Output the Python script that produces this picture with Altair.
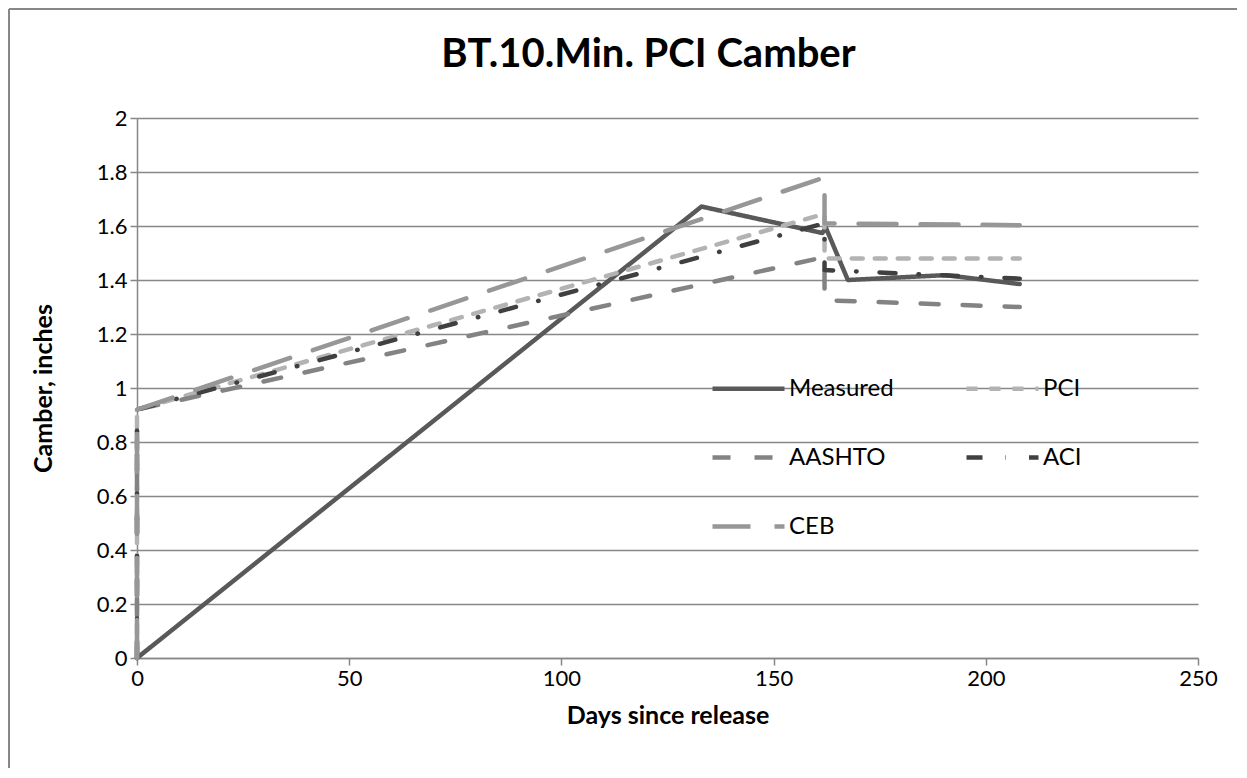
import altair as alt
import pandas as pd

# ---- data ----
series_names = ["Measured", "PCI", "AASHTO", "ACI", "CEB"]

measured_days = [0, 133, 161.5, 162.3, 167.5, 190.5, 208]
measured_camber = [0, 1.672, 1.574, 1.594, 1.400, 1.418, 1.385]

model_days = [0, 0, 162, 162, 208]
pci_camber = [0, 0.92, 1.645, 1.48, 1.48]
aashto_camber = [0, 0.92, 1.485, 1.325, 1.30]
aci_camber = [0, 0.92, 1.61, 1.437, 1.405]
ceb_camber = [0, 0.92, 1.78, 1.61, 1.603]

x_ticks = [0, 50, 100, 150, 200, 250]
y_ticks = [0, 0.2, 0.4, 0.6, 0.8, 1.0, 1.2, 1.4, 1.6, 1.8, 2.0]

# ---- build table ----
rows = []
for name, days, vals in [
    ("Measured", measured_days, measured_camber),
    ("PCI", model_days, pci_camber),
    ("AASHTO", model_days, aashto_camber),
    ("ACI", model_days, aci_camber),
    ("CEB", model_days, ceb_camber),
]:
    for i, (d, v) in enumerate(zip(days, vals)):
        rows.append({"series": name, "day": d, "camber": v, "order": i})
df = pd.DataFrame(rows)

style = {
    "Measured": ("#595959", [1, 0]),
    "PCI": ("#b3b3b3", [11, 12]),
    "AASHTO": ("#838383", [18, 24]),
    "ACI": ("#404040", [16, 23, 0.5, 23]),
    "CEB": ("#979797", [38, 24]),
}
# legend fills column by column: order so rows read Measured|PCI, AASHTO|ACI, CEB
legend_order = ["Measured", "AASHTO", "CEB", "PCI", "ACI"]
colors = [style[s][0] for s in legend_order]
dashes = [style[s][1] for s in legend_order]

FONT = "Lato"
GRID = "#878787"

legend_kw = dict(
    orient="none",
    legendX=573,
    legendY=232,
    columns=2,
    title=None,
    symbolType="stroke",
    symbolSize=5184,
    symbolStrokeWidth=4.5,
    labelFont=FONT,
    labelFontSize=24,
    labelColor="#000000",
    labelOffset=2,
    columnPadding=63,
    rowPadding=18,
    padding=0,
)

lines = alt.Chart(df).mark_line(
    strokeCap="round", strokeJoin="round", strokeWidth=4.5
).encode(
    x=alt.X(
        "day:Q",
        scale=alt.Scale(domain=[0, 250], nice=False),
        axis=alt.Axis(values=x_ticks, title="Days since release", grid=False,
                      labelFlush=False, titlePadding=14),
    ),
    y=alt.Y(
        "camber:Q",
        scale=alt.Scale(domain=[0, 2], nice=False),
        axis=alt.Axis(values=y_ticks, format=".1~f", title="Camber, inches",
                      titlePadding=40),
    ),
    color=alt.Color(
        "series:N",
        scale=alt.Scale(domain=legend_order, range=colors),
        legend=alt.Legend(**legend_kw),
    ),
    strokeDash=alt.StrokeDash(
        "series:N",
        scale=alt.Scale(domain=legend_order, range=dashes),
        legend=alt.Legend(**legend_kw),
    ),
    order="order:Q",
)

frame_df = pd.DataFrame({"k": [0]})
left_border = alt.Chart(frame_df).mark_rule(color=GRID, strokeWidth=2).encode(
    x=alt.value(-128), y=alt.value(-109), y2=alt.value(700)
)
top_border = alt.Chart(frame_df).mark_rule(color=GRID, strokeWidth=2).encode(
    x=alt.value(-128), x2=alt.value(1100), y=alt.value(-109)
)

chart = alt.layer(lines, left_border, top_border).properties(
    width=1061,
    height=540,
    autosize=alt.AutoSizeParams(type="none"),
    padding={"left": 129, "top": 110, "right": 40, "bottom": 110},
    title=alt.TitleParams(
        "BT.10.Min. PCI Camber",
        font=FONT,
        fontSize=40,
        fontWeight="bold",
        color="#000000",
        anchor="middle",
        dx=-19,
        dy=50,
        baseline="alphabetic",
        offset=-49,
    ),
).configure_view(strokeWidth=0).configure_axis(
    domainColor=GRID,
    domainWidth=1.5,
    gridColor=GRID,
    gridWidth=1.5,
    gridOpacity=1,
    tickColor=GRID,
    tickWidth=1.5,
    tickSize=7,
    labelFont=FONT,
    labelFontSize=22,
    labelColor="#000000",
    labelPadding=3,
    titleFont=FONT,
    titleFontSize=25,
    titleFontWeight="bold",
    titleColor="#000000",
).configure_axisY(grid=True)

chart.save("out.html", embed_options={"renderer": "svg", "actions": False})
